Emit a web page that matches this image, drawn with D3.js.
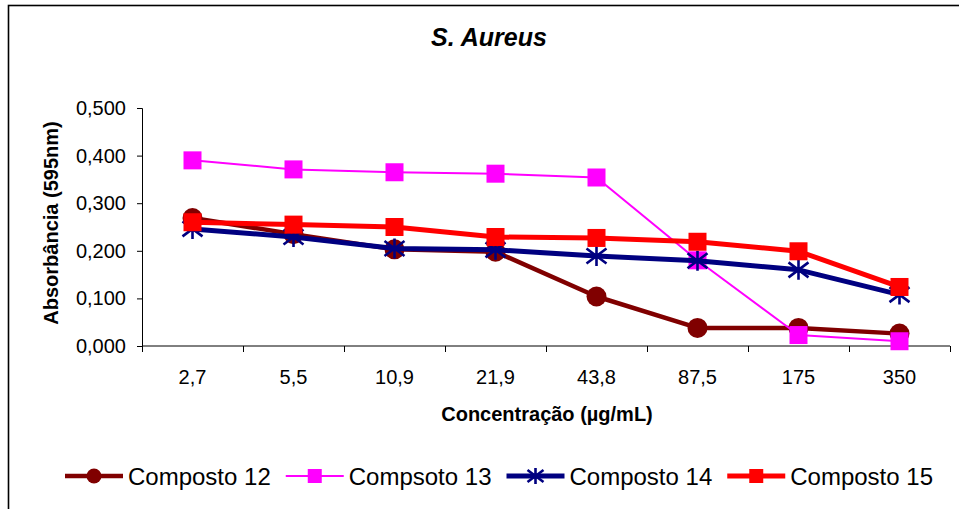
<!DOCTYPE html>
<html>
<head>
<meta charset="utf-8">
<script src="https://cdn.jsdelivr.net/npm/d3@7"></script>
<style>
  html, body { margin: 0; padding: 0; background: #fff; }
  svg { display: block; font-family: Arial, "Liberation Sans", sans-serif; }
</style>
</head>
<body>
<svg id="chart" width="959" height="509"></svg>
<script>
// Concentration categories (µg/mL)
const categories = ["2,7", "5,5", "10,9", "21,9", "43,8", "87,5", "175", "350"];

// Absorbance at 595 nm for each compound
const composto12 = [0.269, 0.235, 0.203, 0.198, 0.104, 0.038, 0.038, 0.026];
const compsoto13 = [0.390, 0.371, 0.365, 0.362, 0.354, 0.180, 0.023, 0.010];
const composto14 = [0.246, 0.229, 0.205, 0.202, 0.189, 0.179, 0.160, 0.108];
const composto15 = [0.260, 0.255, 0.250, 0.229, 0.227, 0.219, 0.199, 0.124];

const yTicks = [0, 0.1, 0.2, 0.3, 0.4, 0.5];

const series = [
  { name: "Composto 12", values: composto12, color: "#800000", width: 4.5, marker: "circle" },
  { name: "Compsoto 13", values: compsoto13, color: "#FF00FF", width: 2, marker: "square" },
  { name: "Composto 14", values: composto14, color: "#000080", width: 5, marker: "star" },
  { name: "Composto 15", values: composto15, color: "#FF0000", width: 5, marker: "square" }
];

const svg = d3.select("#chart");

// Chart frame
svg.append("rect")
  .attr("x", 8.5).attr("y", 5.5)
  .attr("width", 1000).attr("height", 600)
  .attr("fill", "#fff").attr("stroke", "#000").attr("stroke-width", 1.6);

const plot = { left: 142, right: 950, top: 108, bottom: 346 };

const x = d3.scaleBand().domain(categories).range([plot.left, plot.right]).padding(0);
const y = d3.scaleLinear().domain([0, 0.5]).range([plot.bottom, plot.top]);
const fmt = v => d3.format(".3f")(v).replace(".", ",");

// Title
svg.append("text")
  .attr("x", 489).attr("y", 46)
  .attr("text-anchor", "middle")
  .attr("font-size", 25).attr("font-weight", "bold").attr("font-style", "italic")
  .text("S. Aureus");

// Y axis
const yAxis = svg.append("g")
  .attr("transform", `translate(${plot.left},0)`)
  .call(d3.axisLeft(y).tickValues(yTicks).tickFormat(fmt).tickSize(5).tickPadding(11));
yAxis.selectAll("text").attr("font-size", 20).attr("fill", "#000").attr("font-family", "Arial, 'Liberation Sans', sans-serif");
yAxis.select(".domain").attr("stroke", "#000");
yAxis.selectAll(".tick line").attr("stroke", "#000");

// X axis: ticks at category boundaries, labels centred in each band
const xAxis = svg.append("g").attr("transform", `translate(0,${plot.bottom})`);
xAxis.append("line")
  .attr("x1", plot.left).attr("x2", plot.right)
  .attr("stroke", "#000").attr("stroke-width", 1);
const boundaries = categories.map(c => x(c)).concat([x(categories[categories.length - 1]) + x.bandwidth()]);
xAxis.selectAll("line.tick").data(boundaries).enter().append("line")
  .attr("class", "tick")
  .attr("x1", d => d + 0.5).attr("x2", d => d + 0.5)
  .attr("y1", 0).attr("y2", 6)
  .attr("stroke", "#000");
xAxis.selectAll("text").data(categories).enter().append("text")
  .attr("x", d => x(d) + x.bandwidth() / 2)
  .attr("y", 38)
  .attr("text-anchor", "middle")
  .attr("font-size", 20)
  .text(d => d);

// Axis titles
svg.append("text")
  .attr("transform", `translate(58,223) rotate(-90)`)
  .attr("text-anchor", "middle")
  .attr("font-size", 20).attr("font-weight", "bold")
  .text("Absorbância (595nm)");

svg.append("text")
  .attr("x", 547).attr("y", 421)
  .attr("text-anchor", "middle")
  .attr("font-size", 20).attr("font-weight", "bold")
  .text("Concentração (µg/mL)");

// Marker drawing
function drawMarker(g, type, color, size) {
  if (type === "circle") {
    g.append("circle").attr("r", size / 2).attr("fill", color);
  } else if (type === "square") {
    g.append("rect")
      .attr("x", -size / 2).attr("y", -size / 2)
      .attr("width", size).attr("height", size)
      .attr("fill", color);
  } else if (type === "star") {
    const h = size / 2;
    const p = d3.path();
    p.moveTo(0, -h); p.lineTo(0, h);
    p.moveTo(-h, -h * 0.75); p.lineTo(h, h * 0.75);
    p.moveTo(-h, h * 0.75); p.lineTo(h, -h * 0.75);
    g.append("path").attr("d", p.toString())
      .attr("stroke", color).attr("stroke-width", 2.6).attr("fill", "none");
  }
}

const line = d3.line()
  .x((d, i) => x(categories[i]) + x.bandwidth() / 2)
  .y(d => y(d));

series.forEach(s => {
  const g = svg.append("g");
  g.append("path")
    .attr("d", line(s.values))
    .attr("fill", "none")
    .attr("stroke", s.color)
    .attr("stroke-width", s.width)
    .attr("stroke-linejoin", "round");
  s.values.forEach((v, i) => {
    const m = g.append("g")
      .attr("transform", `translate(${x(categories[i]) + x.bandwidth() / 2},${y(v)})`);
    drawMarker(m, s.marker, s.color, s.marker === "circle" ? 20 : (s.marker === "star" ? 20 : 18));
  });
});

// Legend
const legend = svg.append("g");
let lx = 65;
const ly = 476;
series.forEach(s => {
  const item = legend.append("g");
  item.append("line")
    .attr("x1", lx).attr("x2", lx + 58)
    .attr("y1", ly).attr("y2", ly)
    .attr("stroke", s.color).attr("stroke-width", s.width);
  const m = item.append("g").attr("transform", `translate(${lx + 29},${ly})`);
  drawMarker(m, s.marker, s.color, s.marker === "circle" ? 15 : (s.marker === "star" ? 16 : 14));
  const t = item.append("text")
    .attr("x", lx + 63).attr("y", 485)
    .attr("font-size", 24)
    .text(s.name);
  lx += 63 + t.node().getComputedTextLength() + 15;
});
</script>
</body>
</html>
